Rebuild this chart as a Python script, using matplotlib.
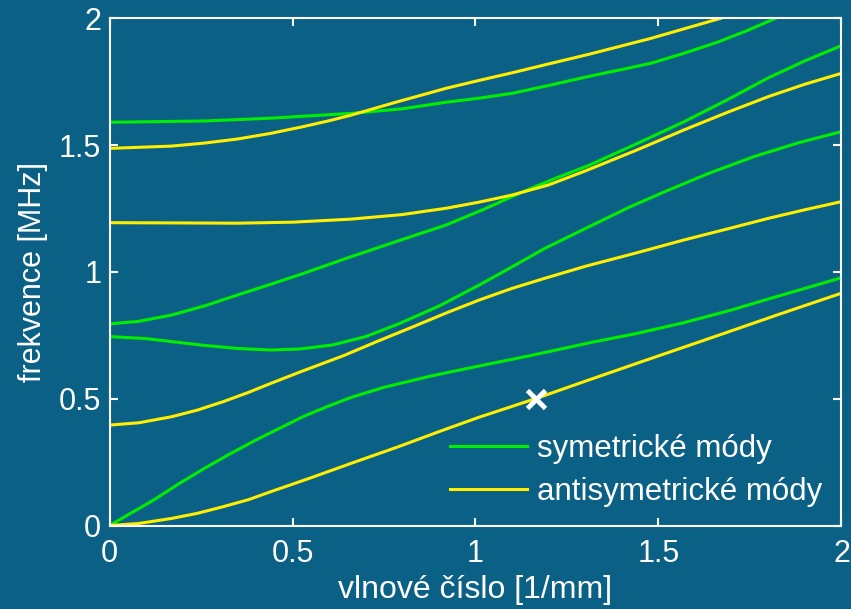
import matplotlib
matplotlib.use("Agg")
import matplotlib.pyplot as plt

plt.rcParams['font.family'] = ['Liberation Sans', 'DejaVu Sans']

BG = '#0b6185'
GREEN = '#00ee00'
YELLOW = '#ffee00'

# symmetric modes (wavenumber [1/mm], frequency [MHz])
S0_k = [0, 0.06, 0.12, 0.19, 0.26, 0.33, 0.40, 0.47, 0.53, 0.60, 0.66, 0.75, 0.88, 1.01,
        1.15, 1.31, 1.44, 1.57, 1.70, 1.80, 1.90, 2.0]
S0_f = [0, 0.05, 0.10, 0.165, 0.226, 0.283, 0.337, 0.387, 0.43, 0.472, 0.505, 0.545, 0.59, 0.629,
        0.67, 0.72, 0.757, 0.80, 0.85, 0.893, 0.935, 0.977]
S1_k = [0, 0.10, 0.17, 0.26, 0.35, 0.44, 0.52, 0.61, 0.70, 0.79, 0.90, 1.01, 1.10, 1.19,
        1.31, 1.42, 1.52, 1.64, 1.76, 1.88, 2.0]
S1_f = [0.745, 0.737, 0.725, 0.71, 0.698, 0.692, 0.696, 0.712, 0.745, 0.795, 0.865, 0.948, 1.02, 1.093,
        1.178, 1.255, 1.318, 1.39, 1.454, 1.508, 1.553]
S2_k = [0, 0.08, 0.17, 0.26, 0.35, 0.44, 0.53, 0.65, 0.78, 0.92, 1.02, 1.12, 1.22, 1.31,
        1.44, 1.57, 1.69, 1.80, 1.90, 2.0]
S2_f = [0.795, 0.805, 0.83, 0.866, 0.909, 0.951, 0.994, 1.055, 1.118, 1.185, 1.245, 1.31, 1.37, 1.42,
        1.505, 1.592, 1.68, 1.765, 1.832, 1.892]
S3_k = [0, 0.26, 0.44, 0.66, 0.80, 0.92, 1.01, 1.10, 1.20, 1.31, 1.40, 1.48, 1.57, 1.66, 1.74, 1.82]
S3_f = [1.59, 1.595, 1.606, 1.625, 1.643, 1.669, 1.685, 1.704, 1.735, 1.771, 1.798, 1.823, 1.862,
        1.905, 1.95, 2.0]

# antisymmetric modes
A0_k = [0, 0.08, 0.17, 0.24, 0.31, 0.38, 0.44, 0.55, 0.66, 0.79, 0.90, 1.01, 1.17, 1.30,
        1.46, 1.66, 1.83, 2.0]
A0_f = [0, 0.008, 0.028, 0.048, 0.074, 0.102, 0.133, 0.188, 0.245, 0.311, 0.37, 0.427, 0.503, 0.569,
        0.649, 0.748, 0.833, 0.916]
A1_k = [0, 0.08, 0.17, 0.24, 0.31, 0.38, 0.44, 0.52, 0.64, 0.73, 0.83, 0.92, 1.01, 1.10, 1.19,
        1.30, 1.44, 1.57, 1.69, 1.80, 1.90, 2.0]
A1_f = [0.396, 0.405, 0.429, 0.455, 0.488, 0.525, 0.560, 0.605, 0.67, 0.725, 0.784, 0.838, 0.889,
        0.935, 0.975, 1.022, 1.075, 1.126, 1.17, 1.211, 1.245, 1.277]
A2_k = [0, 0.20, 0.35, 0.50, 0.66, 0.80, 0.92, 1.01, 1.10, 1.20, 1.30, 1.44, 1.57, 1.69, 1.80,
        1.90, 2.0]
A2_f = [1.194, 1.193, 1.192, 1.196, 1.208, 1.226, 1.251, 1.275, 1.303, 1.343, 1.398, 1.48, 1.56,
        1.63, 1.691, 1.74, 1.783]
A3_k = [0, 0.17, 0.26, 0.35, 0.44, 0.53, 0.60, 0.66, 0.78, 0.92, 1.01, 1.10, 1.20, 1.31, 1.48, 1.67]
A3_f = [1.487, 1.496, 1.508, 1.524, 1.546, 1.573, 1.596, 1.618, 1.668, 1.724, 1.755, 1.785, 1.82,
        1.858, 1.921, 2.0]

marker_k = [1.165]
marker_f = [0.5]

sym = [(S0_k, S0_f), (S1_k, S1_f), (S2_k, S2_f), (S3_k, S3_f)]
anti = [(A0_k, A0_f), (A1_k, A1_f), (A2_k, A2_f), (A3_k, A3_f)]

xticks = [0, 0.5, 1, 1.5, 2]
xticklabels = ['0', '0.5', '1', '1.5', '2']
yticks = [0, 0.5, 1, 1.5, 2]
yticklabels = ['0', '0.5', '1', '1.5', '2']

fig = plt.figure(figsize=(8.51, 6.09), dpi=100, facecolor=BG)
ax = fig.add_axes([0.1287, 0.1371, 0.8601, 0.8329], facecolor=BG)

lw = 2.2
for i, (k, f) in enumerate(sym):
    ax.plot(k, f, color=GREEN, lw=lw, label='symetrické módy' if i == 0 else None,
            solid_joinstyle='round')
for i, (k, f) in enumerate(anti):
    ax.plot(k, f, color=YELLOW, lw=lw, label='antisymetrické módy' if i == 0 else None,
            solid_joinstyle='round')

ax.plot(marker_k, marker_f, linestyle='none', marker='x', color='white',
        markersize=13, markeredgewidth=3.5)

ax.set_xlim(0, 2)
ax.set_ylim(0, 2)
ax.set_xticks(xticks)
ax.set_xticklabels(xticklabels)
ax.set_yticks(yticks)
ax.set_yticklabels(yticklabels)
ax.tick_params(direction='in', length=6, width=1.5, colors='white', labelsize=22,
               top=True, right=True, pad=6)
ax.tick_params(axis='x', pad=10)
for s in ax.spines.values():
    s.set_color('white')
    s.set_linewidth(1.5)

ax.set_xlabel('vlnové číslo [1/mm]', color='white', fontsize=23, labelpad=4)
ax.set_ylabel('frekvence [MHz]', color='white', fontsize=22, labelpad=8)

leg = ax.legend(loc='lower right', frameon=False, fontsize=22.5, handlelength=2.45,
                handletextpad=0.35, labelspacing=0.4, borderaxespad=0.2)
for t in leg.get_texts():
    t.set_color('white')

fig.savefig('out.png', dpi=100, facecolor=BG)
